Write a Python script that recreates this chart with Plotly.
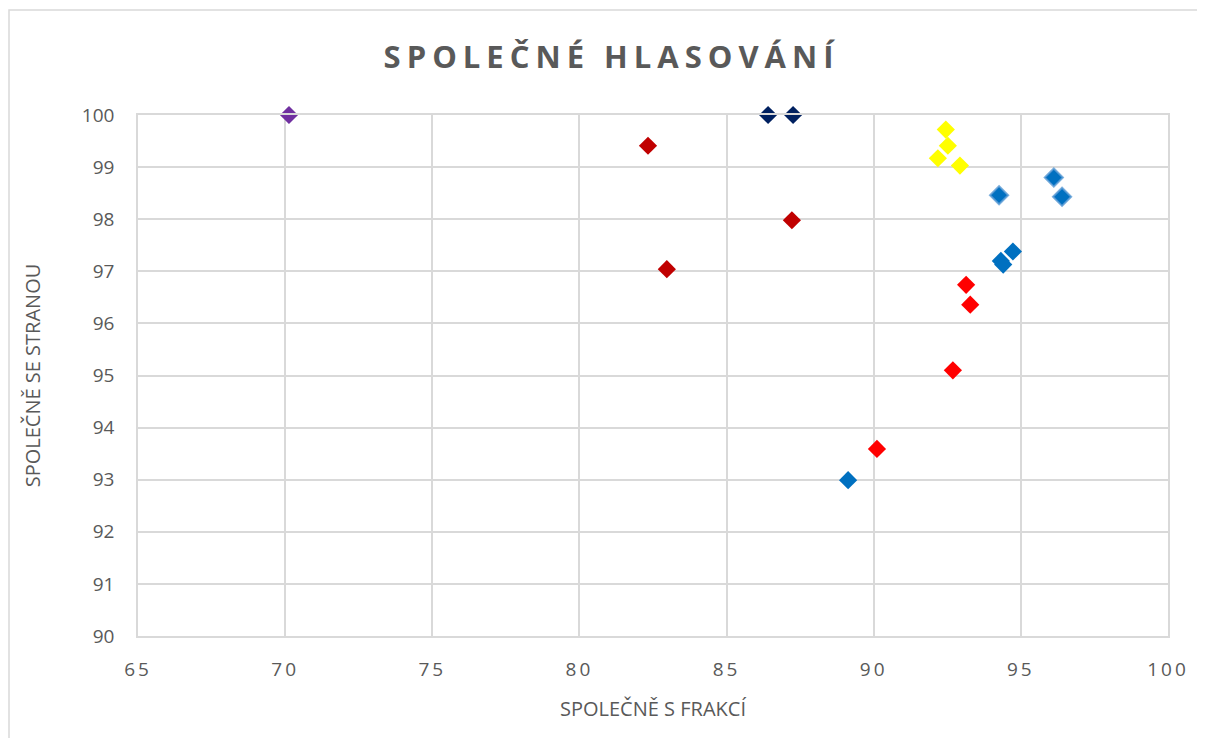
import plotly.graph_objects as go

# Data (x = společně s frakcí, y = společně se stranou)
purple_x = [70.13]
purple_y = [100.0]
navy_x = [86.41, 87.26]
navy_y = [100.0, 100.0]
darkred_x = [82.33, 87.22, 82.97]
darkred_y = [99.41, 97.98, 97.04]
yellow_x = [92.45, 92.52, 92.18, 92.93]
yellow_y = [99.72, 99.41, 99.17, 99.03]
lightblue_x = [94.26, 96.12, 96.40]
lightblue_y = [98.46, 98.80, 98.43]
blue_x = [94.73, 94.32, 94.40, 89.13]
blue_y = [97.38, 97.20, 97.13, 92.99]
red_x = [93.14, 93.28, 92.69, 90.11]
red_y = [96.74, 96.36, 95.10, 93.59]

x_ticks = [65, 70, 75, 80, 85, 90, 95, 100]
y_ticks = [90, 91, 92, 93, 94, 95, 96, 97, 98, 99, 100]

title_text = "SPOLEČNÉ HLASOVÁNÍ"
x_title = "SPOLEČNĚ S FRAKCÍ"
y_title = "SPOLEČNĚ SE STRANOU"

fig = go.Figure()

def add(xs, ys, color, line_color=None, line_width=0):
    fig.add_trace(go.Scatter(
        x=xs, y=ys, mode="markers", cliponaxis=False,
        marker=dict(symbol="diamond", size=14, color=color,
                    line=dict(color=line_color or color, width=line_width)),
        showlegend=False, hoverinfo="x+y"))

add(purple_x, purple_y, "#7030A0")
add(navy_x, navy_y, "#002060")
add(darkred_x, darkred_y, "#C00000")
add(yellow_x, yellow_y, "#FFFF00")
add(lightblue_x, lightblue_y, "#0070C0", "rgba(91,155,213,0.8)", 2)
add(blue_x, blue_y, "#0070C0")
add(red_x, red_y, "#FF0000")

grid = "#D9D9D9"
FONT = "Open Sans, sans-serif"
tick_font = dict(family=FONT, size=19, color="#595959")

W, H = 1189, 730
L, R, T, B = 130, 29, 107, 102
pw, ph = W - L - R, H - T - B

fig.update_layout(
    width=W, height=H,
    paper_bgcolor="white", plot_bgcolor="white",
    margin=dict(l=L, r=R, t=T, b=B),
    title=dict(text="<b>" + title_text + "</b>", x=0.5076, xref="container", xanchor="center",
               y=0.933, yref="container", yanchor="middle",
               font=dict(family=FONT, size=31, color="#595959")),
    xaxis=dict(range=[65, 100], tickvals=x_ticks, showgrid=True, gridcolor=grid, gridwidth=1.5,
               zeroline=False, showline=True, linecolor=grid, linewidth=1.5, mirror=True,
               ticks="", ticklabelstandoff=15, tickfont=tick_font,
               title=dict(text=x_title, standoff=21,
                          font=dict(family=FONT, size=20, color="#595959"))),
    yaxis=dict(range=[90, 100], tickvals=y_ticks, showgrid=True, gridcolor=grid, gridwidth=1.5,
               zeroline=False, showline=True, linecolor=grid, linewidth=1.5, mirror=True,
               ticks="", ticklabelstandoff=18, tickfont=tick_font,
               title=dict(text=y_title, standoff=36,
                          font=dict(family=FONT, size=20, color="#595959"))),
    shapes=[dict(type="rect", xref="paper", yref="paper",
                 x0=(1 - L) / pw, x1=(W + 40 - L) / pw,
                 y0=(T + ph - (H + 40)) / ph, y1=(T + ph - 2) / ph,
                 line=dict(color="#D9D9D9", width=1.5), fillcolor="rgba(0,0,0,0)", layer="below")],
)

post = """
function sp(){
  document.querySelectorAll('.gtitle').forEach(function(e){e.style.letterSpacing='6px';});
  document.querySelectorAll('.xtick text').forEach(function(e){e.style.letterSpacing='3px';});
}
sp();
var gd = document.getElementById('{plot_id}');
if (gd && gd.on) { gd.on('plotly_afterplot', sp); }
"""

fig.write_html("out.html", post_script=post)
